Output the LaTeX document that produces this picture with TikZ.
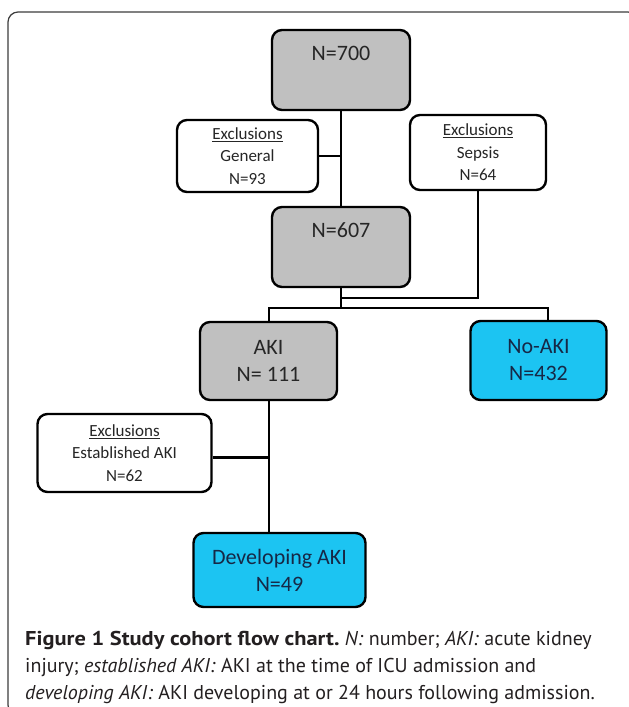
\documentclass[tikz,border=0pt]{standalone}
\usepackage{graphicx}
\usepackage{fontspec}
\setmainfont{Carlito}
\newfontfamily\capfont{PT Sans}
\definecolor{boxgray}{RGB}{192,192,192}
\definecolor{boxcyan}{RGB}{28,196,242}
\definecolor{navytext}{RGB}{22,40,70}
\definecolor{frame}{RGB}{60,60,60}
\definecolor{captext}{RGB}{35,31,32}
\begin{document}
\begin{tikzpicture}[x=1pt,y=-1pt,
  box/.style={draw=black, line width=2.4pt, rounded corners=10pt, inner sep=0pt, align=center},
  graybox/.style={box, fill=boxgray, text=black!85},
  cyanbox/.style={box, fill=boxcyan, text=navytext, font=\fontsize{22}{27}\selectfont},
  whitebox/.style={box, fill=white, text=black!85, font=\fontsize{17}{22.5}\selectfont},
  conn/.style={draw=black, line width=2pt},
  big/.style={font=\fontsize{22}{27}\selectfont},
  capline/.style={anchor=base west, inner sep=0pt, text=captext, font=\capfont\fontsize{20}{27}\selectfont}
]
\useasboundingbox (0,0) rectangle (629,707);
\begin{scope}
\clip (0,0) rectangle (629,707);
\draw[frame, line width=1.2pt, rounded corners=10pt] (8,12) rectangle (638,715);
\end{scope}

% boxes
\node[graybox, minimum width=138pt, minimum height=80pt] (n700) at (341,70) {};
\node[big, anchor=base, text=black!85] (t700) at (341,60) {N=700};
\node[whitebox, minimum width=141pt, minimum height=72pt] (gen) at (247.5,156) {\underline{Exclusions}\\General\\N=93};
\node[whitebox, minimum width=136pt, minimum height=75pt] (sep) at (478,152.5) {\underline{Exclusions}\\Sepsis\\N=64};
\node[graybox, minimum width=138pt, minimum height=80pt] (n607) at (341,247) {};
\node[big, anchor=base, text=black!85] (t607) at (341,237) {N=607};
\node[graybox, big, minimum width=137pt, minimum height=78pt] (aki) at (268.5,361) {AKI\\N= 111};
\node[cyanbox, minimum width=136pt, minimum height=79pt] (noaki) at (538.5,360.5) {No-AKI\\N=432};
\node[whitebox, minimum width=174pt, minimum height=78pt] (est) at (124.5,453) {\underline{Exclusions}\\Established AKI\\N=62};
\node[cyanbox, minimum width=172pt, minimum height=74pt] (dev) at (279.5,570) {Developing AKI\\N=49};

% connectors
\coordinate (merge) at (341,298);
\coordinate (split) at (341,308);
\coordinate (estj) at (269,457);
\draw[conn] (n700.south) -- (n607.north);
\draw[conn] (gen.east) -- (gen.east -| n700.south);
\draw[conn] (sep.south) |- (merge);
\draw[conn] (n607.south) -- (split);
\draw[conn] (aki.north) |- (split) -| ([xshift=9pt]noaki.north);
\draw[conn] (aki.south) -- (aki.south |- dev.north);
\draw[draw=black, line width=3pt] (est.east |- estj) -- (estj);

% caption
\node[capline] (cap1) at (25,645)
  {\scalebox{1.12}[1]{\textbf{Figure 1 Study cohort flow chart.}} \textit{N:} number; \textit{AKI:} acute kidney};
\node[capline] (cap2) at (25,672)
  {injury; \textit{established AKI:} AKI at the time of ICU admission and};
\node[capline] (cap3) at (25,699)
  {\textit{developing AKI:} AKI developing at or 24 hours following admission.};
\end{tikzpicture}
\end{document}
